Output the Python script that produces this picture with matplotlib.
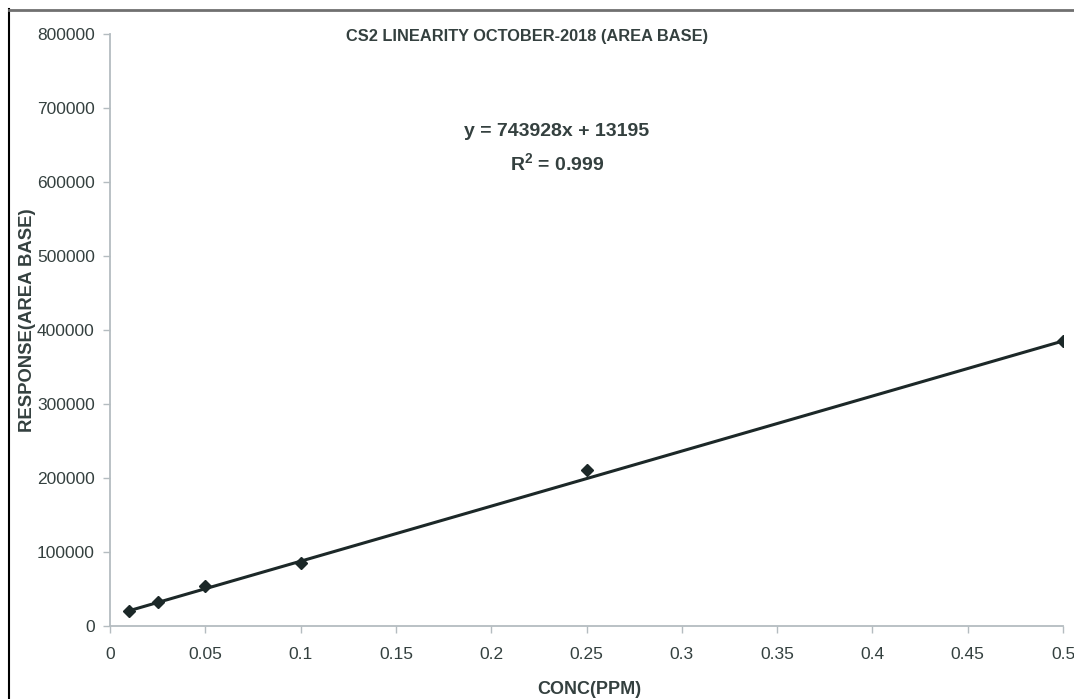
import matplotlib.pyplot as plt
import numpy as np

# Datos de linealidad CS2
conc = [0.01, 0.025, 0.05, 0.1, 0.25, 0.5]
respuesta = [20300, 32000, 53500, 84500, 211000, 385000]
pendiente = 743928
intercepto = 13195
r2 = 0.999

x_ticks = [0, 0.05, 0.1, 0.15, 0.2, 0.25, 0.3, 0.35, 0.4, 0.45, 0.5]
y_ticks = [0, 100000, 200000, 300000, 400000, 500000, 600000, 700000, 800000]

plt.rcParams['font.family'] = ['Liberation Sans', 'DejaVu Sans']
texto = '#34403f'
eje = '#b4bcc0'

fig = plt.figure(figsize=(10.74, 6.99), dpi=100)
ax = fig.add_axes([0.1024, 0.1044, 0.8874, 0.847])

# Linea de tendencia
xl = np.array([conc[0], conc[-1]])
ax.plot(xl, pendiente * xl + intercepto, color='#1c2828', lw=2.2)
ax.plot(conc, respuesta, linestyle='none', marker='D', ms=6.5, color='#1c2828')

ax.set_xlim(0, 0.5)
ax.set_ylim(0, 800000)
ax.set_xticks(x_ticks)
ax.set_xticklabels(['0', '0.05', '0.1', '0.15', '0.2', '0.25', '0.3', '0.35', '0.4', '0.45', '0.5'])
ax.set_yticks(y_ticks)
ax.set_yticklabels([str(v) for v in y_ticks])
ax.tick_params(direction='out', length=5, width=1, color=eje, labelcolor=texto,
               labelsize=12.5)
ax.tick_params(axis='y', pad=6)
ax.tick_params(axis='x', pad=10)
for s in ['top', 'right']:
    ax.spines[s].set_visible(False)
for s in ['left', 'bottom']:
    ax.spines[s].set_color(eje)
    ax.spines[s].set_linewidth(1.3)

# Titulo, etiquetas y ecuacion
fig.text(527 / 1074, 1 - 37 / 699, 'CS2 LINEARITY OCTOBER-2018 (AREA BASE)',
         ha='center', va='center', fontsize=11.8, fontweight='bold', color=texto)
fig.text(589 / 1074, 1 - 689 / 699, 'CONC(PPM)', ha='center', va='center',
         fontsize=13, fontweight='bold', color=texto)
fig.text(28 / 1074, 1 - 320 / 699, 'RESPONSE(AREA BASE)', ha='center', va='center',
         rotation=90, fontsize=13.3, fontweight='bold', color=texto)
fig.text(557 / 1074, 1 - 132 / 699, 'y = %dx + %d' % (pendiente, intercepto),
         ha='center', va='center', fontsize=14, fontweight='bold', color=texto)
fig.text(557 / 1074, 1 - 163 / 699, '$\\mathregular{R^2}$ = %.3f' % r2,
         ha='center', va='center', fontsize=14, fontweight='bold', color=texto)

# Marco exterior
fig.add_artist(plt.Line2D([9 / 1074, 9 / 1074], [0, 1 - 9 / 699], transform=fig.transFigure,
                          color='black', lw=1.5))
fig.add_artist(plt.Line2D([9 / 1074, 1], [1 - 9.5 / 699, 1 - 9.5 / 699], transform=fig.transFigure,
                          color='#707070', lw=2))

fig.savefig('out.png', dpi=100)
